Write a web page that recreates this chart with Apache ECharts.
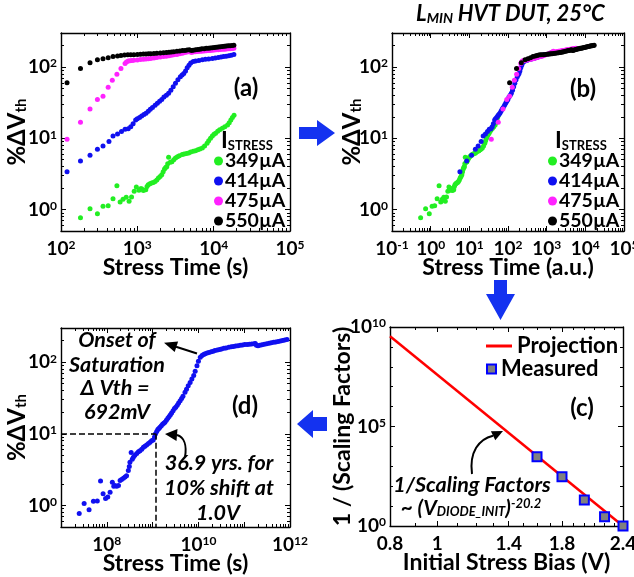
<!DOCTYPE html>
<html>
<head>
<meta charset="utf-8">
<script src="https://cdn.jsdelivr.net/npm/echarts@6/dist/echarts.min.js"></script>
<style>
  html, body { margin: 0; padding: 0; background: #fff; }
  #chart { width: 634px; height: 577px; }
</style>
</head>
<body>
<div id="chart"></div>
<script>
const FONT = 'Lato, "Open Sans", "DejaVu Sans", sans-serif'
const ARROW_BLUE = '#1432f0'

// ---------- (a) stress time (s) vs %dVth, one list per stress current ----------
const a349 = [[180,0.77],[240,1.03],[300,0.87],[355,1.11],[415,1.13],[480,1.42],[540,2.16],[595,1.28],[650,1.4],[715,1.49],[780,1.31],[840,1.5],[910,1.8],[970,2.07],[1050,1.86],[1100,1.95],[1140,1.95],[1200,1.85],[1290,1.9],[1340,2.1],[1390,2.23],[1460,2.3],[1540,2.36],[1620,2.4],[1710,2.48],[1800,2.6],[1890,2.77],[1990,2.9],[2090,3.08],[2180,3.4],[2270,3.7],[2350,3.9],[2430,4.0],[2500,4.4],[2570,5.4],[2700,4.6],[2840,4.7],[3000,5.0],[3160,5.3],[3350,5.5],[3550,5.7],[3870,5.9],[4100,6.0],[4400,6.1],[4710,6.2],[5000,6.4],[5400,6.6],[5780,6.7],[6200,6.9],[6600,7.1],[7100,7.3],[7600,7.8],[8200,8.5],[8600,9.2],[9100,10],[9600,10.8],[10100,11.4],[10600,11.8],[11300,12.5],[12000,13.2],[13000,13.8],[14000,14.5],[15200,15.4],[16000,16.5],[16800,18],[17600,19.5],[18500,21]]
const a414 = [[120,3.4],[180,4.8],[240,5.8],[300,7.0],[355,7.8],[425,9.0],[480,10.8],[550,11.5],[620,12.4],[690,13.4],[760,13.6],[820,14.5],[880,16],[950,18],[1000,18.8],[1070,19.5],[1140,20.5],[1220,21.5],[1300,22.5],[1390,24],[1480,25.5],[1580,27],[1710,29],[1830,31],[1960,33],[2090,35],[2230,38],[2400,40],[2570,43],[2750,47],[2950,53],[3160,59],[3400,66],[3660,73],[3860,77],[4060,81],[4280,88],[4500,98],[4750,106],[5000,114],[5400,119],[5800,121],[6400,123],[7100,126],[7800,128],[8600,130],[9600,132],[10500,134],[11500,136],[12500,138],[13500,140],[14600,142],[15800,144],[17000,146],[18400,150]]
const a475 = [[120,9.7],[180,16.8],[240,25.7],[300,35],[355,39],[415,52],[470,65],[540,79],[610,95],[690,112],[720,118],[760,121],[800,122],[850,123],[900,124],[1000,125],[1100,127],[1200,128],[1300,130],[1400,131],[1500,132],[1650,134],[1800,136],[2000,138],[2200,140],[2400,142],[2600,144],[2800,146],[3000,148],[3300,150],[3600,153],[3900,156],[4200,160],[4500,163],[4800,166],[5100,160],[5400,162],[5800,164],[6200,165],[6600,166],[7000,167],[7500,168],[8000,169],[8500,170],[9000,171],[9600,172],[10200,173],[10800,174],[11500,175],[12200,176],[13000,177],[13800,178],[14600,179],[15500,180],[16400,181],[17400,182],[18400,183]]
const a550 = [[120,60],[180,95],[240,115],[300,126],[355,131],[415,135],[480,140],[550,143],[610,145],[680,147],[750,148],[820,149],[900,149],[1000,150],[1100,151],[1200,152],[1300,152],[1400,153],[1500,154],[1650,155],[1800,156],[2000,157],[2200,158],[2400,160],[2600,161],[2800,163],[3000,164],[3300,166],[3600,168],[3900,170],[4200,171],[4500,173],[4800,175],[5100,170],[5400,172],[5800,174],[6200,176],[6600,178],[7000,180],[7500,181],[8000,183],[8500,184],[9000,185],[9600,187],[10200,188],[10800,190],[11500,191],[12200,193],[13000,194],[13800,196],[14600,197],[15500,198],[16400,199],[17400,200],[18400,202]]

// ---------- (b) scaled stress time (a.u.) vs %dVth ----------
const b349 = [[0.55,0.77],[0.74,1.03],[0.92,0.87],[1.09,1.11],[1.27,1.13],[1.47,1.42],[1.65,2.16],[1.82,1.28],[1.99,1.4],[2.19,1.49],[2.39,1.31],[2.57,1.5],[2.78,1.8],[2.97,2.07],[3.21,1.86],[3.37,1.95],[3.49,1.95],[3.67,1.85],[3.95,1.9],[4.1,2.1],[4.25,2.23],[4.47,2.3],[4.71,2.36],[4.96,2.4],[5.23,2.48],[5.51,2.6],[5.78,2.77],[6.09,2.9],[6.4,3.08],[6.67,3.4],[6.95,3.7],[7.19,3.9],[7.44,4.0],[7.65,4.4],[7.86,5.4],[8.26,4.6],[8.69,4.7],[9.18,5.0],[9.67,5.3],[10.25,5.5],[10.9,5.7],[11.8,5.9],[12.5,6.0],[13.5,6.1],[14.4,6.2],[15.3,6.4],[16.5,6.6],[17.7,6.7],[19.0,6.9],[20.2,7.1],[21.7,7.3],[23.3,7.8],[25.1,8.5],[26.3,9.2],[27.8,10],[29.4,10.8],[30.9,11.4],[32.4,11.8],[34.6,12.5],[36.7,13.2],[39.8,13.8],[42.8,14.5],[46.5,15.4],[49,16.5],[51.4,18],[53.9,19.5],[56.6,21]]
const b414 = [[5.7,3.4],[8.55,4.8],[11.4,5.8],[14.3,7.0],[16.9,7.8],[20.2,9.0],[22.8,10.8],[26.1,11.5],[29.5,12.4],[32.8,13.4],[36.1,13.6],[39,14.5],[41.8,16],[45.1,18],[47.5,18.8],[50.8,19.5],[54.2,20.5],[58,21.5],[61.8,22.5],[66,24],[70.3,25.5],[75,27],[81.2,29],[86.9,31],[93.1,33],[99.3,35],[106,38],[114,40],[122,43],[131,47],[140,53],[150,59],[161.5,66],[174,73],[183,77],[193,81],[203,88],[214,98],[226,106],[237.5,114],[256.5,119],[275.5,121],[304,123],[337,126],[370,128],[408.5,130],[456,132],[499,134],[546,136],[594,138],[641,140],[693.5,142],[750.5,144],[807.5,146],[874,150]]
const b475 = [[37,9.7],[56,16.8],[74,25.7],[93,35],[110,39],[129,52],[146,65],[167,79],[189,95],[214,112],[223,118],[236,121],[248,122],[264,123],[279,124],[310,125],[341,127],[372,128],[403,130],[434,131],[465,132],[512,134],[558,136],[620,138],[682,140],[744,142],[806,144],[868,146],[930,148],[1023,150],[1116,153],[1209,156],[1302,160],[1395,163],[1488,166],[1581,160],[1674,162],[1798,164],[1922,165],[2046,166],[2170,167],[2325,168],[2480,169],[2635,170],[2790,171],[2976,172],[3162,173],[3348,174],[3565,175],[3782,176],[4030,177],[4278,178],[4526,179],[4805,180],[5084,181],[5394,182],[5704,183]]
const b550 = [[110,60],[166,95],[221,115],[276,126],[327,131],[382,135],[442,140],[506,143],[561,145],[626,147],[690,148],[754,149],[828,149],[920,150],[1012,151],[1104,152],[1196,152],[1288,153],[1380,154],[1518,155],[1656,156],[1840,157],[2024,158],[2208,160],[2392,161],[2576,163],[2760,164],[3036,166],[3312,168],[3588,170],[3864,171],[4140,173],[4416,175],[4692,170],[4968,172],[5336,174],[5704,176],[6072,178],[6440,180],[6900,181],[7360,183],[7820,184],[8280,185],[8832,187],[9384,188],[9936,190],[10580,191],[11224,193],[11960,194],[12696,196],[13432,197],[14260,198],[15088,199],[16008,200],[16928,202]]

// ---------- (c) 1/scaling factor vs initial stress bias ----------
const cBias = [1.6, 1.8, 2.0, 2.2, 2.4]
const cInvSF = [3000, 300, 20, 2.9, 1]
const cProjBias = [0.8, 2.4]
const cProjInvSF = [3.4e9, 1]

// ---------- (d) projected stress time (s) at 1.0 V ----------
const dCurve = [[2.5e7,0.77],[3.2e7,1.06],[4.1e7,0.87],[5.1e7,1.14],[6.2e7,1.15],[7.3e7,2.2],[8.3e7,1.46],[9.4e7,1.25],[1.05e8,1.31],[1.18e8,1.53],[1.32e8,2.1],[1.42e8,1.85],[1.5e8,1.9],[1.65e8,1.85],[1.8e8,1.9],[1.95e8,2.23],[2.1e8,2.3],[2.3e8,2.4],[2.5e8,2.5],[2.7e8,2.6],[2.95e8,3.08],[3.1e8,3.5],[3.2e8,4.0],[3.4e8,5.5],[3.6e8,4.4],[3.8e8,4.7],[4.1e8,5.0],[4.5e8,5.3],[4.9e8,5.6],[5.3e8,5.8],[5.8e8,6.1],[6.3e8,6.5],[6.8e8,6.7],[7.4e8,7.0],[8.1e8,7.3],[8.8e8,7.6],[9.5e8,8.0],[1.03e9,8.2],[1.1e9,9.0],[1.16e9,10],[1.23e9,10.8],[1.3e9,11.5],[1.37e9,11.9],[1.45e9,12.3],[1.55e9,13],[1.65e9,13.6],[1.75e9,14],[1.86e9,14.5],[2.0e9,15.5],[2.15e9,16.5],[2.3e9,17.5],[2.45e9,18.5],[2.6e9,19.5],[2.8e9,21],[3.0e9,22.5],[3.2e9,23.5],[3.45e9,25],[3.7e9,27],[4.0e9,29],[4.3e9,31],[4.6e9,33.5],[5.1e9,38],[5.5e9,42],[6.0e9,47],[6.6e9,52],[7.2e9,58],[7.9e9,65],[8.5e9,75],[9.3e9,89],[1.0e10,103],[1.1e10,117],[1.2e10,124],[1.3e10,128],[1.4e10,131],[1.55e10,134],[1.7e10,137],[1.9e10,140],[2.1e10,142],[2.3e10,145],[2.6e10,148],[2.9e10,150],[3.2e10,153],[3.6e10,156],[4.0e10,158],[4.6e10,162],[5.2e10,164],[5.8e10,166],[6.5e10,168],[7.3e10,170],[8.2e10,172],[9.2e10,174],[1.03e11,176],[1.16e11,177],[1.3e11,178],[1.46e11,179],[1.64e11,181],[1.75e11,183],[1.85e11,172],[2.0e11,170],[2.2e11,172],[2.45e11,175],[2.75e11,178],[3.1e11,181],[3.5e11,184],[3.9e11,187],[4.4e11,190],[4.9e11,192],[5.5e11,195],[6.2e11,198],[6.9e11,201],[7.7e11,204],[8.6e11,207]]
const dTarget = [1.164e9, 10]   // 36.9 years, 10 % shift

// ---------- tick labels ----------
const aXExp = [2, 3, 4, 5]
const bXExp = [-1, 0, 1, 2, 3, 4, 5]
const dXExp = [8, 10, 12]
const dvYExp = [0, 1, 2]
const dvRange = [0.5, 300]
const cXTicks = [0.8, 1, 1.4, 1.8, 2.4]
const cYExp = [0, 5, 10]

const currents = ['349µA', '414µA', '475µA', '550µA']
const colors = ['#22ee22', '#1010f0', '#ff22ff', '#000000']

const L = Math.log10
const logPts = (arr) => arr.map((p) => [L(p[0]), L(p[1])])

function logMinors(lo, hi) {
  const out = []
  for (let n = Math.floor(lo); n <= Math.ceil(hi); n++) {
    for (let k = 2; k <= 9; k++) {
      const v = n + L(k)
      if (v >= lo - 1e-9 && v <= hi + 1e-9) out.push(v)
    }
  }
  return out
}
function intsIn(lo, hi) {
  const out = []
  for (let n = Math.ceil(lo - 1e-9); n <= Math.floor(hi + 1e-9); n++) out.push(n)
  return out
}

const RICH = {
  b: { fontFamily: FONT, fontWeight: 'bold', fontSize: 19, color: '#000' },
  s: { fontFamily: FONT, fontWeight: 'bold', fontSize: 12, color: '#000', verticalAlign: 'top' },
}
const powFmt = (v) => '{b|10}{s|' + Math.round(v) + '}'
const dvName = '{a|%ΔV}{b|th}'
const dvNameStyle = {
  rich: {
    a: { fontFamily: FONT, fontWeight: 'bold', fontSize: 24, color: '#000' },
    b: { fontFamily: FONT, fontWeight: 'bold', fontSize: 15, color: '#000', verticalAlign: 'bottom' },
  },
}
const titleStyle = { fontFamily: FONT, fontWeight: 'bold', fontSize: 23, color: '#000' }

const xAxes = []
const yAxes = []

// four axes per dimension and grid: main side major/minor, opposite side major/minor
function addAxes(list, g, isX, o) {
  const sides = isX ? ['bottom', 'top'] : ['left', 'right']
  sides.forEach((pos, si) => {
    [true, false].forEach((maj) => {
      const first = si === 0 && maj
      list.push({
        type: 'value', gridIndex: g, position: pos, min: o.min, max: o.max,
        axisLine: { show: maj, onZero: false, lineStyle: { color: '#000', width: 1.4 } },
        axisTick: {
          show: true, inside: true, length: maj ? 5 : 3,
          customValues: maj ? o.major : o.minor,
          lineStyle: { color: '#000', width: 1 },
        },
        axisLabel: first
          ? { show: true, customValues: o.labels, formatter: o.fmt, margin: o.margin, rich: RICH,
              fontFamily: FONT, fontWeight: 'bold', fontSize: 19, color: '#000' }
          : { show: false },
        splitLine: { show: false },
        name: first ? o.name : '',
        nameLocation: 'middle', nameGap: o.nameGap, nameMoveOverlap: false,
        nameTextStyle: o.nameStyle || titleStyle,
      })
    })
  })
}

const dvLo = L(dvRange[0]), dvHi = L(dvRange[1])
const dvY = (gap) => ({ min: dvLo, max: dvHi, major: intsIn(dvLo, dvHi), minor: logMinors(dvLo, dvHi),
  labels: dvYExp, fmt: powFmt, margin: 4, name: dvName, nameGap: gap, nameStyle: dvNameStyle })

// grid 0 = (a), 1 = (b), 2 = (c), 3 = (d)
addAxes(xAxes, 0, true, { min: 2, max: 5, major: intsIn(2, 5), minor: logMinors(2, 5), labels: aXExp,
  fmt: powFmt, margin: 8, name: 'Stress Time (s)', nameGap: 25 })
addAxes(yAxes, 0, false, dvY(32))
addAxes(xAxes, 1, true, { min: -1, max: 5, major: intsIn(-1, 5), minor: logMinors(-1, 5), labels: bXExp,
  fmt: powFmt, margin: 8, name: 'Stress Time (a.u.)', nameGap: 25 })
addAxes(yAxes, 1, false, dvY(28))
const cxLo = L(cProjBias[0]), cxHi = L(cProjBias[1])
const cxMinor = []
for (let k = 8; k <= 24; k++) cxMinor.push(L(k / 10))
addAxes(xAxes, 2, true, { min: cxLo, max: cxHi, major: cXTicks.map(L), minor: cxMinor, labels: cXTicks.map(L),
  fmt: (v) => String(Math.round(Math.pow(10, v) * 10) / 10), margin: 8, name: 'Initial Stress Bias (V)', nameGap: 25 })
addAxes(yAxes, 2, false, { min: 0, max: 10, major: cYExp, minor: intsIn(0, 10), labels: cYExp,
  fmt: powFmt, margin: 4, name: '1 / (Scaling Factors)', nameGap: 36 })
addAxes(xAxes, 3, true, { min: 7, max: 12, major: intsIn(7, 12), minor: logMinors(7, 12), labels: dXExp,
  fmt: powFmt, margin: 8, name: 'Stress Time (s)', nameGap: 25 })
addAxes(yAxes, 3, false, dvY(32))

const dot = (name, data, color, g) => ({
  type: 'scatter', name, data: logPts(data), xAxisIndex: 4 * g, yAxisIndex: 4 * g,
  symbolSize: 5, itemStyle: { color, opacity: 1 }, silent: true,
})

const series = []
;[a349, a414, a475, a550].forEach((d, i) => series.push(dot(currents[i], d, colors[i], 0)))
;[b349, b414, b475, b550].forEach((d, i) => series.push(dot(currents[i], d, colors[i], 1)))
series.push({
  type: 'line', name: 'Projection', xAxisIndex: 8, yAxisIndex: 8, symbol: 'none', silent: true,
  data: cProjBias.map((b, i) => [L(b), L(cProjInvSF[i])]),
  lineStyle: { color: '#ff0000', width: 2.5 }, itemStyle: { color: '#ff0000' }, z: 2,
})
series.push({
  type: 'scatter', name: 'Measured', xAxisIndex: 8, yAxisIndex: 8, symbol: 'rect', symbolSize: 9, silent: true,
  data: cBias.map((b, i) => [L(b), L(cInvSF[i])]),
  itemStyle: { color: '#808080', borderColor: '#0000ff', borderWidth: 2, opacity: 1 }, z: 3,
})
const dScatter = dot('dCurve', dCurve, '#1010f0', 3)
const tx = L(dTarget[0]), ty = L(dTarget[1])
dScatter.markLine = {
  silent: true, symbol: ['none', 'none'], animation: false,
  lineStyle: { type: 'dashed', color: '#000', width: 1.5 }, label: { show: false },
  data: [
    [{ coord: [7, ty] }, { coord: [tx, ty] }],
    [{ coord: [tx, ty] }, { coord: [tx, dvLo] }],
  ],
}
series.push(dScatter)

const legendText = { fontFamily: FONT, fontWeight: 'bold', fontSize: 19.5, color: '#000', lineHeight: 18, padding: [0, 0, 0, -3] }
const legend = [
  { data: currents, orient: 'vertical', left: 214, top: 151, icon: 'circle', itemWidth: 9, itemHeight: 9,
    itemGap: 0, padding: 0, selectedMode: false, textStyle: legendText },
  { data: currents, orient: 'vertical', left: 548, top: 151, icon: 'circle', itemWidth: 9, itemHeight: 9,
    itemGap: 0, padding: 0, selectedMode: false, textStyle: legendText },
  { data: [{ name: 'Projection', icon: 'rect' }], left: 486, top: 335, itemWidth: 26, itemHeight: 3, padding: 0,
    selectedMode: false, textStyle: { fontFamily: FONT, fontWeight: 'bold', fontSize: 22, color: '#000' } },
  { data: ['Measured'], left: 486, top: 358, itemWidth: 9, itemHeight: 9, padding: 0, selectedMode: false,
    textStyle: { fontFamily: FONT, fontWeight: 'bold', fontSize: 22, color: '#000' } },
]

const txt = (x, y, text, size, extra) => ({
  type: 'text', x, y, z: 100,
  style: Object.assign({ text, fontFamily: FONT, fontWeight: 'bold', fontSize: size, fill: '#000',
    align: 'center', verticalAlign: 'middle' }, extra || {}),
})
const it = { fontStyle: 'italic' }
const istress = {
  rich: {
    i: { fontFamily: FONT, fontWeight: 'bold', fontSize: 23, fill: '#000' },
    s: { fontFamily: FONT, fontWeight: 'bold', fontSize: 13, fill: '#000', verticalAlign: 'bottom' },
  },
  align: 'left',
}

const graphic = [
  txt(416, 14, '{l|L}{m|MIN}{l| HVT DUT, 25°C}', 22, {
    align: 'left',
    rich: {
      l: { fontFamily: FONT, fontWeight: 'bold', fontStyle: 'italic', fontSize: 22, fill: '#000' },
      m: { fontFamily: FONT, fontWeight: 'bold', fontStyle: 'italic', fontSize: 14, fill: '#000', verticalAlign: 'bottom' },
    },
  }),
  txt(246, 88, '(a)', 24),
  txt(583, 89, '(b)', 24),
  txt(582, 408, '(c)', 24),
  txt(245, 406, '(d)', 24),
  txt(221, 141, '{i|I}{s|STRESS}', 23, istress),
  txt(555, 141, '{i|I}{s|STRESS}', 23, istress),
  // panel (d) notes
  txt(117, 340, 'Onset of', 21.5, it),
  txt(117, 365, 'Saturation', 21.5, it),
  txt(115, 388, 'Δ Vth =', 21.5, it),
  txt(117, 412, '692mV', 21.5, it),
  txt(219, 463, '36.9 yrs. for', 21.5, it),
  txt(219, 488, '10% shift at', 21.5, it),
  txt(218, 513, '1.0V', 21.5, it),
  { type: 'line', z: 100, shape: { x1: 197, y1: 353.5, x2: 176, y2: 346.7 }, style: { stroke: '#000', lineWidth: 2 } },
  { type: 'polygon', z: 100, shape: { points: [[164, 342.7], [178.1, 341.5], [174.7, 351.9]] }, style: { fill: '#000' } },
  { type: 'bezierCurve', z: 100, shape: { x1: 185, y1: 457, cpx1: 187, cpy1: 445, cpx2: 184, cpy2: 437, x2: 177, y2: 435 },
    style: { stroke: '#000', lineWidth: 2, fill: null } },
  { type: 'polygon', z: 100, shape: { points: [[165, 434], [177.5, 429], [176.5, 441]] }, style: { fill: '#000' } },
  // panel (c) notes
  txt(472, 485, '1/Scaling Factors', 21.5, it),
  txt(471, 508, '{n|~ (V}{sub|DIODE_INIT}{n|)}{sup|-20.2}', 21, {
    rich: {
      n: { fontFamily: FONT, fontWeight: 'bold', fontStyle: 'italic', fontSize: 21, fill: '#000' },
      sub: { fontFamily: FONT, fontWeight: 'bold', fontStyle: 'italic', fontSize: 13, fill: '#000', verticalAlign: 'bottom' },
      sup: { fontFamily: FONT, fontWeight: 'bold', fontStyle: 'italic', fontSize: 13, fill: '#000', verticalAlign: 'top' },
    },
  }),
  { type: 'bezierCurve', z: 100, shape: { x1: 472, y1: 474, cpx1: 469, cpy1: 452, cpx2: 479, cpy2: 439, x2: 493, y2: 435.7 },
    style: { stroke: '#000', lineWidth: 2, fill: null } },
  { type: 'polygon', z: 100, shape: { points: [[503, 431], [495.3, 440.2], [490.9, 431.2]] }, style: { fill: '#000' } },
  // block arrows between panels
  { type: 'polygon', z: 100, shape: { points: [[299, 127], [317, 127], [317, 120], [335, 133], [317, 146], [317, 139], [299, 139]] }, style: { fill: ARROW_BLUE } },
  { type: 'polygon', z: 100, shape: { points: [[494, 280], [507, 280], [507, 294], [515, 294], [500.5, 320], [486, 294], [494, 294]] }, style: { fill: ARROW_BLUE } },
  { type: 'polygon', z: 100, shape: { points: [[327, 417], [313, 417], [313, 410], [297, 424], [313, 438], [313, 431], [327, 431]] }, style: { fill: ARROW_BLUE } },
]

const gridBase = { containLabel: false, outerBoundsMode: 'none' }
const option = {
  animation: false,
  backgroundColor: '#fff',
  grid: [
    Object.assign({ left: 61, top: 33, width: 229, height: 198 }, gridBase),
    Object.assign({ left: 392, top: 33, width: 232, height: 198 }, gridBase),
    Object.assign({ left: 390, top: 327, width: 233, height: 199 }, gridBase),
    Object.assign({ left: 61, top: 328, width: 229, height: 199 }, gridBase),
  ],
  xAxis: xAxes,
  yAxis: yAxes,
  legend,
  series,
  graphic,
}

const chart = echarts.init(document.getElementById('chart'), null, { renderer: 'canvas' })
chart.setOption(option)
</script>
</body>
</html>
